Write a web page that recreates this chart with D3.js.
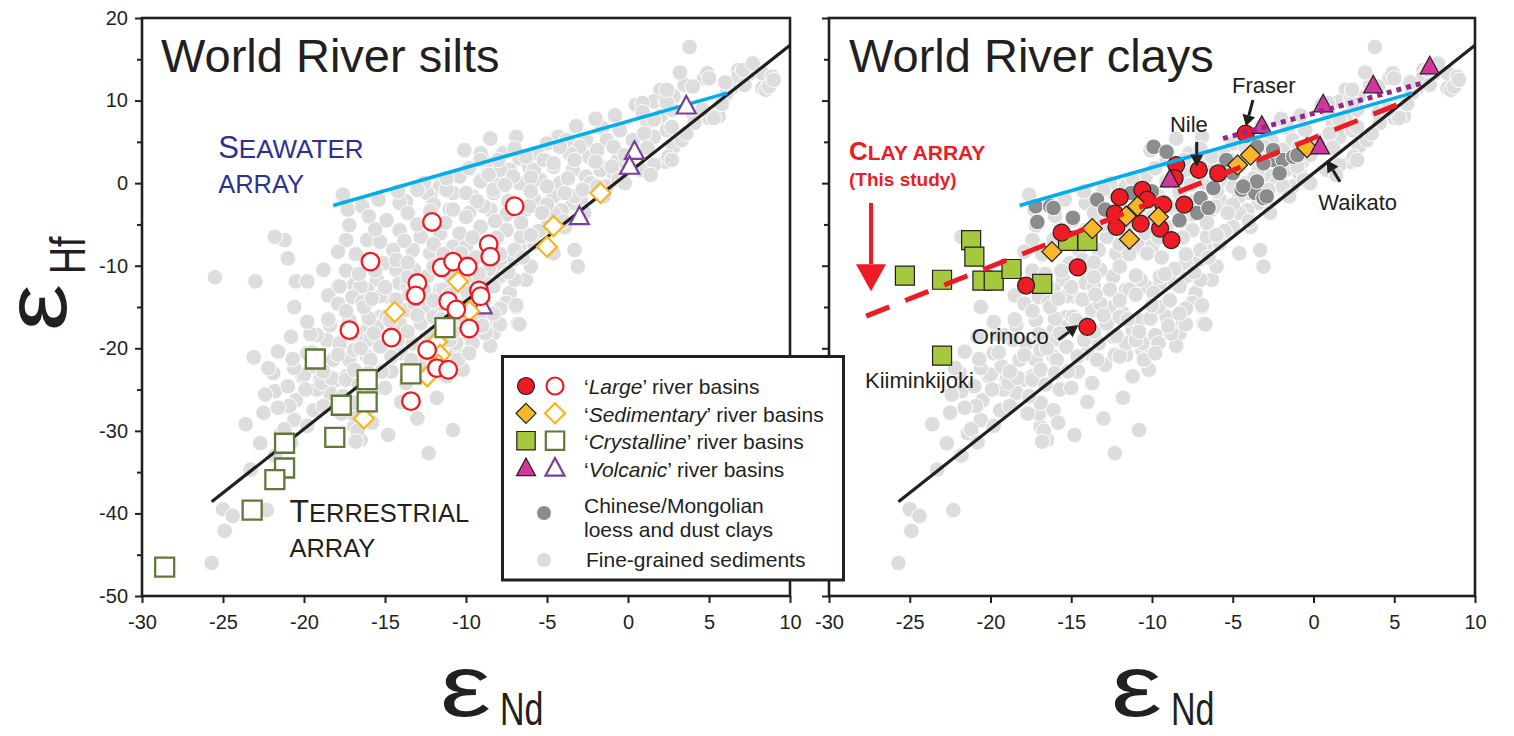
<!DOCTYPE html>
<html>
<head>
<meta charset="utf-8">
<script src="https://cdn.jsdelivr.net/npm/d3@7"></script>
<style>
body { margin: 0; background: #fff; }
text { font-family: "Liberation Sans", Arial, Helvetica, sans-serif; fill: #231f20; }
</style>
</head>
<body>
<svg id="chart" width="1514" height="736"></svg>
<script>
// ---- data (eNd, eHf) ----
var xTicks = [-30, -25, -20, -15, -10, -5, 0, 5, 10];
var yTicks = [20, 10, 0, -10, -20, -30, -40, -50];
var yMinorTicks = [15, 5, -5, -15, -25, -35, -45];

// fine-grained sediments (same set in both panels)
var fineGrained = [
  [3.8,16.5],[6.8,13.7],[7.5,13.3],[8.6,12.5],[8.3,11.5],[6.4,11.5],[4.7,12.7],[3.5,11.9],[2.0,11.3],[0.5,9.5],
  [1.6,9.9],[2.8,10.5],[5.0,7.9],[2.0,8.1],[1.2,7.3],[-0.5,6.4],[-1.6,6.7],[-3.2,6.9],[-4.3,5.6],[-2.6,5.2],
  [-1.3,5.2],[0.3,5.2],[1.6,5.6],[2.4,6.4],[2.3,2.6],[1.6,2.2],[0.8,1.6],[-0.9,4.4],[-0.7,2.6],[-1.7,2.0],
  [-2.4,3.2],[-3.0,4.4],[-3.6,3.6],[-3.8,5.2],[-5.0,4.8],[-5.6,3.6],[-6.7,3.0],[-7.7,3.6],[-9.1,3.6],[-10.1,4.0],
  [-8.7,2.4],[-7.3,1.6],[-6.1,2.0],[-4.6,2.0],[-3.4,1.6],[-2.6,0.8],[-4.2,0.0],[-5.4,0.4],[-6.7,0.0],[-7.9,0.4],
  [-9.1,0.4],[-10.4,0.8],[-11.6,-0.4],[-12.2,-1.6],[-10.8,-1.2],[-9.6,-1.6],[-8.3,-1.2],[-5.8,-2.0],[-4.6,-1.6],[-3.4,-2.4],
  [-11.0,-3.2],[-9.8,-3.6],[-8.5,-3.2],[-6.3,-3.2],[-0.9,1.2],[1.4,1.0],[2.8,4.4],[4.0,8.5],[6.1,10.9],
  [-17.6,-1.4],[-17.3,-3.2],[-16.4,-2.8],[-17.2,-5.1],[-17.4,-6.9],[-21.2,-6.9],[-21.8,-6.5],[-21.0,-9.1],[-18.8,-10.5],[-20.5,-11.9],
  [-19.8,-11.9],[-17.9,-12.5],[-16.9,-12.3],[-16.1,-6.9],[-15.3,-7.1],[-14.9,-4.5],[-14.1,-5.7],[-13.7,-2.2],[-14.1,-2.4],[-12.4,-1.2],
  [-11.2,-0.8],[-10.8,-3.2],[-10.0,-1.2],[-9.1,0.2],[-8.3,-0.8],[-7.9,1.6],[-7.1,0.8],[-5.8,1.6],[-5.2,2.8],[-5.0,-0.4],
  [-6.1,-2.8],[-8.9,-2.8],[-10.0,-4.1],[-9.1,-5.3],[-10.4,-6.1],[-11.6,-6.1],[-12.8,-6.5],[-13.3,-8.1],[-14.5,-8.1],[-15.1,-9.7],
  [-14.3,-10.5],[-15.5,-11.7],[-16.1,-12.9],[-14.9,-13.7],[-14.1,-12.1],[-12.4,-11.3],[-12.2,-8.5],[-10.8,-7.7],[-10.0,-7.7],[-7.5,-5.7],
  [-6.7,-7.7],[-7.1,-9.3],[-7.9,-11.3],[-8.7,-12.1],[-7.3,-13.3],[-7.5,-14.5],[-6.9,-15.0],[-6.8,-17.0],[-8.1,-17.0],[-9.1,-16.2],
  [-8.3,-18.2],[-11.2,-17.8],[-12.8,-17.0],[-13.7,-15.4],[-12.4,-15.0],[-10.4,-12.5],[-11.6,-12.9],[-15.3,-16.2],[-16.1,-17.8],[-6.3,-11.7],
  [-6.3,3.2],[-4.6,2.4],[-9.1,2.8],
  [-25.5,-11.4],[-23.0,-11.9],[-23.1,-21.1],[-20.1,-23.4],[-20.5,-26.3],[-19.4,-27.5],[-20.6,-28.7],[-23.6,-29.2],[-21.4,-30.3],[-23.3,-34.7],
  [-25.0,-39.5],[-24.4,-40.3],[-22.3,-39.6],[-24.9,-42.1],[-25.7,-46.0],[-18.6,-19.0],[-17.8,-19.4],[-17.2,-21.4],[-18.2,-21.4],[-19.0,-23.8],
  [-18.0,-23.8],[-18.4,-25.4],[-19.2,-25.0],[-17.4,-23.4],[-16.1,-21.0],[-16.1,-19.0],[-15.3,-19.8],[-15.5,-17.4],[-14.9,-16.2],[-14.1,-17.0],
  [-13.3,-19.4],[-14.3,-14.1],[-15.3,-13.7],[-16.5,-12.5],[-17.8,-12.5],[-16.5,-31.1],[-16.9,-29.5],[-10.8,-29.9],[-12.3,-32.7],[-17.0,-27.9],
  [-9.8,-18.4],[-10.6,-20.2],[-10.2,-22.6],[-9.5,-12.1],
  [-21.2,-29.8],[-20.0,-23.2],[-19.3,-22.2],[-17.7,-27.9],[-16.9,-26.6],[-16.1,-27.5],[-16.7,-30.0],[-16.8,-31.3],[-13.7,-24.2],[-12.9,-22.0],
  [-11.6,-20.8],[-10.5,-21.4],[-9.6,-19.4],[-8.5,-19.7],[-8.8,-18.2],[-7.9,-17.1],[-6.7,-17.1],[-6.9,-14.8],[-7.9,-15.2],[-9.6,-15.0],
  [-10.6,-19.4],[-11.6,-19.4],[-12.3,-20.8],[-15.7,-25.0],[-18.9,-24.2],[-18.3,-23.6],[-17.4,-23.8],[-16.9,-22.6],[-15.9,-21.4],[-14.7,-16.6],
  [-15.7,-18.2],
  [-13.2,-10.5],[-12.0,-10.1],[-10.3,-8.5],[-10.7,-11.7],[-9.5,-11.3],[-7.9,-9.7],[-7.0,-8.1],[-6.6,-6.5],[-5.8,-7.3],[-5.0,-5.3],
  [-4.1,-3.3],[-2.9,-2.0],[-2.3,0.0],[-1.7,1.6],[-1.3,-0.4],[-3.3,-8.1],[-4.6,-8.5],[-6.0,-10.1],[-7.0,-11.7],[-8.3,-12.5],
  [-9.9,-13.3],[-11.4,-12.9],[-12.6,-12.9],[-14.3,-9.3],[-13.6,-12.5],[-3.1,-10.1],
  [4.9,13.3],[6.8,12.9],[8.3,13.3],[8.9,12.9],[8.5,11.3],[5.6,8.1],[2.3,10.1],[2.7,8.9],[1.6,7.7],[1.0,6.0],
  [2.5,3.2],[3.3,5.2],[4.1,7.3],[-1.0,2.0],[-0.6,0.4],[-1.9,-0.4],[-3.3,-1.6],[-4.6,-3.6],[-1.5,-1.6],[-2.7,-3.6],
  [-3.9,-5.3],[7.1,13.7],[7.7,14.5],[8.7,11.7],[9.0,12.5],[5.0,12.7],[4.0,11.7],[5.3,7.9],[2.4,9.7],[0.9,9.7],
  [2.4,11.3],[2.7,6.8],[2.7,2.8],
  // denser core of the cloud
  [-8.5,5.4],[-6.9,5.6],[-2.0,7.8],[-0.8,8.2],[0.9,8.6],[-7.0,4.2],[-4.2,4.4],[-1.9,4.0],[1.2,4.3],[3.6,6.0],
  [4.6,8.9],[5.8,9.6],[7.2,11.9],[6.0,12.2],[3.2,13.4],[-9.8,1.8],[-8.0,2.8],[-3.3,2.8],[-2.0,2.6],[-0.2,3.4],
  [-12.6,0.0],[-11.2,0.6],[-8.6,1.0],[-6.0,0.7],[-3.7,0.6],[-0.2,0.0],[-14.2,-1.0],[-13.0,-0.8],[-7.6,-0.2],[-6.0,-1.0],
  [-2.8,-0.8],[-15.4,-2.0],[-12.0,-2.6],[-9.3,-2.2],[-7.4,-2.2],[-5.0,-2.6],[-3.9,-1.2],[-16.0,-4.0],[-13.6,-3.6],[-12.2,-3.4],
  [-7.5,-3.8],[-5.3,-3.6],[-4.0,-4.6],[-15.6,-5.6],[-13.0,-5.0],[-11.3,-4.8],[-8.2,-4.6],[-6.6,-4.8],[-5.5,-5.8],[-16.8,-8.6],
  [-13.8,-7.0],[-12.0,-7.4],[-9.6,-6.6],[-8.1,-6.6],[-6.0,-6.3],[-17.9,-8.3],[-13.6,-9.6],[-11.4,-8.6],[-9.4,-9.0],[-7.9,-8.6],
  [-6.5,-9.0],[-17.4,-10.6],[-16.6,-11.0],[-11.0,-11.2],[-8.6,-10.4],[-7.4,-10.8],[-18.5,-13.6],[-17.0,-13.8],[-15.0,-12.6],[-9.2,-11.0],
  [-17.9,-14.6],[-16.4,-14.4],[-13.2,-14.6],[-11.8,-15.8],[-18.4,-17.2],[-17.2,-16.6],[-16.0,-16.4],[-12.0,-16.2],[-10.8,-16.6],[-19.2,-18.4],
  [-16.8,-18.6],[-12.4,-18.6],[-11.0,-19.0],[-9.8,-20.6],[-19.8,-20.6],[-16.9,-20.2],[-14.0,-20.6],[-12.0,-21.0],[-20.6,-22.4],[-16.6,-24.4],
  [-14.6,-22.8],[-13.4,-21.4],[-11.2,-23.4],[-19.5,-20.5],[-18.8,-22.8],[-17.9,-20.8],[-17.0,-18.3],[-16.5,-20.0],[-16.0,-23.0],[-15.2,-22.8],
  [-14.6,-21.0],[-14.2,-19.0],[-13.6,-18.0],[-13.0,-16.0],[-12.2,-18.5],[-11.5,-16.5],[-10.8,-18.0],[-10.1,-16.4],[-15.0,-24.8],[-14.0,-26.5],
  [-15.8,-29.0],[-17.6,-25.8],[-18.8,-27.0],[-19.9,-25.0],[-20.9,-27.0],[-21.8,-25.2],[-22.5,-27.8],[-21.9,-23.0],[-20.7,-21.3],[-19.6,-18.3],
  [-18.5,-16.5],[-17.4,-15.5],[-16.3,-15.0],[-15.8,-14.0],[-13.5,-13.5],[-12.0,-14.2],[-11.0,-13.5],[-10.0,-14.8],[-8.9,-14.2],[-8.3,-15.8],
  [-9.0,-17.3],[-11.8,-26.0],[-13.0,-28.5],[-14.8,-30.5],[-22.7,-31.5],[-21.8,-33.0],[-20.6,-15.0],[-19.8,-16.8],[-20.8,-18.6],[-21.6,-20.4],
  [-22.2,-22.4],[-21.0,-24.6],[-22.4,-25.6],[-21.6,-27.2],[-19.8,-29.4],[-20.8,-31.4],[-15.6,-10.6],[-13.6,-11.4]
];

// Chinese/Mongolian loess and dust clays (right panel)
var loess = [
  [-17.2,-2.8],[-16.3,-2.8],[-17.1,-4.7],[-16.1,-3.0],[-14.9,-4.2],[-13.4,-2.0],[-12.9,-3.2],[-9.9,4.4],[-9.1,3.8],[-8.3,-4.5],
  [-7.2,-3.6],[-7.0,-1.8],[-6.2,-0.6],[-5.4,2.8],[-5.0,1.2],[-4.45,-0.8],[-3.6,-1.2],[-3.5,0.2],[-3.1,-1.8],[-2.5,2.8],
  [-1.9,2.8],[-1.25,3.2],[-3.5,4.4],[-2.5,4.0],[-1.0,3.4],[-3.1,2.4],[-4.35,-0.4],[-2.9,-1.6],[-2.1,1.2],[-10.0,-1.0],
  [-6.5,-3.0],[-11.3,-1.2]
];

// World River silts (open symbols)
var siltsLarge = [
  [-12.1,-4.7],[-7.0,-2.8],[-15.9,-9.5],[-8.6,-7.4],[-8.5,-8.9],[-11.5,-10.2],[-10.8,-9.5],[-9.9,-10.1],[-13.0,-12.1],[-13.1,-13.6],
  [-11.1,-14.3],[-10.6,-15.3],[-9.2,-13.0],[-9.1,-13.7],[-9.8,-17.6],[-17.2,-17.8],[-14.6,-18.7],[-12.4,-20.2],[-11.8,-22.4],[-11.1,-22.6],
  [-13.4,-26.4]
];
var siltsSedimentary = [
  [-1.7,-1.2],[-4.6,-5.2],[-5.0,-7.7],[-10.5,-11.9],[-14.4,-15.6],[-11.8,-19.2],[-11.6,-20.8],[-11.7,-22.0],[-12.4,-23.4],[-16.3,-28.5],
  [-9.8,-15.5]
];
var siltsCrystalline = [
  [-11.3,-17.5],[-19.3,-21.3],[-16.1,-23.8],[-13.4,-23.1],[-17.7,-26.9],[-16.1,-26.5],[-18.1,-30.8],[-21.2,-31.5],[-21.2,-34.5],[-21.8,-35.9],
  [-23.2,-39.6],[-28.6,-46.5]
];
var siltsVolcanic = [[3.6,9.3],[0.4,3.8],[0.1,2.0],[-3.0,-4.1],[-9.0,-14.9]];

// World River clays (filled symbols)
var claysLarge = [
  [-17.8,-12.4],[-14.6,-10.2],[-15.6,-6.0],[-14.0,-17.4],[-12.0,-1.7],[-10.6,-0.8],[-12.3,-3.7],[-12.2,-5.3],[-10.7,-4.9],[-9.5,-5.5],
  [-9.3,-2.6],[-8.0,-2.6],[-8.8,-6.9],[-10.3,-2.0],[-8.5,2.2],[-8.6,0.6],[-7.1,1.6],[-5.9,1.2],[-4.2,6.0]
];
var claysSedimentary = [[-16.2,-8.3],[-13.7,-5.5],[-11.4,-6.8],[-11.6,-4.0],[-10.9,-2.8],[-9.6,-4.1],[-4.7,2.2],[-3.9,3.4],[-0.4,4.3]];
var claysCrystalline = [
  [-21.2,-6.9],[-21.0,-8.9],[-25.3,-11.2],[-23.0,-11.7],[-20.5,-11.8],[-19.8,-11.8],[-18.7,-10.4],[-16.8,-12.2],[-15.2,-7.0],[-14.0,-7.0],
  [-23.0,-20.9]
];
var claysVolcanic = [[-8.9,0.4],[-3.2,6.9],[0.6,9.5],[3.7,11.8],[7.2,14.1],[0.4,4.4]];

// arrays (line end points)
var terrestrialArray = [[-25.7,-38.6],[10,16.7]];
var seawaterArray = [[-18.2,-2.7],[6.1,10.9]];
var clayArray = [[-27.7,-16.1],[5.7,9.9]];
var volcanicArray = [[-5.6,5.4],[6.7,12.1]];

// ---- setup ----
var ink = "#231f20";
var col = {
  red: "#ed1c24", sedFill: "#f8b629", sedLine: "#f9b31c", crysFill: "#a6c83c", crysLine: "#5f7a36",
  volcFill: "#d2389b", volcLine: "#7a3f98", blue: "#00aeef", purple: "#92278f",
  light: "#dddddd", dark: "#8b8c8e", navy: "#2e3192"
};

var svg = d3.select("#chart");
var y = d3.scaleLinear().domain([-50, 20]).range([596, 18]);
var xL = d3.scaleLinear().domain([-30, 10]).range([142, 790]);
var xR = d3.scaleLinear().domain([-30, 10]).range([829, 1475]);

// marker shapes centred on 0,0
var shapes = {
  circle: function(r){ return "M"+r+",0A"+r+","+r+" 0 1,1 "+(-r)+",0A"+r+","+r+" 0 1,1 "+r+",0Z"; },
  square: function(s){ return "M"+(-s)+","+(-s)+"h"+(2*s)+"v"+(2*s)+"h"+(-2*s)+"Z"; },
  diamond: function(d){ return "M0,"+(-d)+"L"+d+",0L0,"+d+"L"+(-d)+",0Z"; },
  triangle: function(w){ return "M0,"+(-w*1.1)+"L"+w+","+(w*0.75)+"L"+(-w)+","+(w*0.75)+"Z"; }
};

function drawMarks(g, data, x, shape, size, fill, stroke, sw) {
  g.append("g").selectAll("path").data(data).join("path")
    .attr("transform", function(d){ return "translate(" + x(d[0]) + "," + y(d[1]) + ")"; })
    .attr("d", shapes[shape](size))
    .attr("fill", fill).attr("stroke", stroke).attr("stroke-width", sw)
    .attr("stroke-linejoin", "miter");
}

function drawDots(g, data, x, fill) {
  g.append("g").selectAll("circle").data(data).join("circle")
    .attr("cx", function(d){ return x(d[0]); })
    .attr("cy", function(d){ return y(d[1]); })
    .attr("r", 7.8)
    .attr("fill", fill).attr("stroke", "#fff").attr("stroke-width", 1);
}

function drawLine(g, pts, x, color, width, dash) {
  var line = d3.line().x(function(d){ return x(d[0]); }).y(function(d){ return y(d[1]); });
  var p = g.append("path").datum(pts).attr("d", line)
    .attr("fill", "none").attr("stroke", color).attr("stroke-width", width);
  if (dash) p.attr("stroke-dasharray", dash);
  return p;
}

function drawArrow(g, from, to, x, color, headLen, headW, width) {
  var x1 = x(from[0]), y1 = y(from[1]), x2 = x(to[0]), y2 = y(to[1]);
  var a = Math.atan2(y2 - y1, x2 - x1);
  var bx = x2 - headLen * Math.cos(a), by = y2 - headLen * Math.sin(a);
  g.append("line").attr("x1", x1).attr("y1", y1).attr("x2", bx).attr("y2", by)
    .attr("stroke", color).attr("stroke-width", width);
  var px = -Math.sin(a) * headW / 2, py = Math.cos(a) * headW / 2;
  g.append("path")
    .attr("d", "M" + x2 + "," + y2 + "L" + (bx + px) + "," + (by + py) + "L" + (bx - px) + "," + (by - py) + "Z")
    .attr("fill", color);
}

function drawAxes(g, x, withLabels) {
  var fmt = function(d){ return withLabels ? String(d) : ""; };
  g.append("g").attr("transform", "translate(" + x.range()[0] + ",0)")
    .call(d3.axisLeft(y).tickValues(yTicks).tickSize(7).tickPadding(7).tickFormat(fmt));
  g.append("g").attr("transform", "translate(" + x.range()[0] + ",0)")
    .call(d3.axisLeft(y).tickValues(yMinorTicks).tickSize(5).tickFormat(""));
  g.append("g").attr("transform", "translate(0,596)")
    .call(d3.axisBottom(x).tickValues(xTicks).tickSize(7).tickPadding(12).tickFormat(function(d){ return String(d); }));
  g.selectAll(".domain").remove();
  g.selectAll(".tick line").attr("stroke", ink).attr("stroke-width", 2);
  g.selectAll(".tick text").attr("font-size", 20).attr("font-family", null).attr("fill", ink);
  g.append("rect").attr("x", x.range()[0]).attr("y", 18)
    .attr("width", x.range()[1] - x.range()[0]).attr("height", 578)
    .attr("fill", "none").attr("stroke", ink).attr("stroke-width", 2.6);
}

function addText(g, px, py, size, parts, color, weight) {
  var t = g.append("text").attr("x", px).attr("y", py).attr("font-size", size);
  if (color) t.style("fill", color);
  if (weight) t.attr("font-weight", weight);
  parts.forEach(function(p){
    var s = t.append("tspan").text(p[0]);
    if (p[1]) s.attr("font-size", p[1]);
    if (p[2]) s.attr("font-style", p[2]);
  });
  return t;
}

// ---- left panel: World River silts ----
var left = svg.append("g");
drawDots(left, fineGrained, xL, col.light);
drawLine(left, terrestrialArray, xL, ink, 3.2);
drawLine(left, seawaterArray, xL, col.blue, 3.6);
drawMarks(left, siltsVolcanic, xL, "triangle", 9.5, "#fff", col.volcLine, 2.2);
drawMarks(left, siltsSedimentary, xL, "diamond", 10, "#fff", col.sedLine, 2.2);
drawMarks(left, siltsLarge, xL, "circle", 8.8, "#fff", col.red, 2.3);
drawMarks(left, siltsCrystalline, xL, "square", 9.5, "#fff", col.crysLine, 2.3);
drawAxes(left, xL, true);

addText(left, 161, 72, 47, [["World River silts"]]);
addText(left, xL(-25.3), y(3.0), 26, [["S", 31], ["EAWATER"]], col.navy);
addText(left, xL(-25.3), y(-1.2), 25.5, [["ARRAY"]], col.navy);
addText(left, xL(-20.9), y(-41.0), 25.5, [["T", 32], ["ERRESTRIAL"]]);
addText(left, xL(-20.9), y(-45.3), 25.5, [["ARRAY"]]);

// ---- right panel: World River clays ----
var right = svg.append("g");
drawDots(right, fineGrained, xR, col.light);
drawDots(right, loess, xR, col.dark);
drawLine(right, terrestrialArray, xR, ink, 3.2);
drawMarks(right, claysCrystalline, xR, "square", 9.5, col.crysFill, ink, 1.2);
drawMarks(right, claysLarge, xR, "circle", 8.5, col.red, ink, 1.2);
drawMarks(right, claysSedimentary, xR, "diamond", 10, col.sedFill, ink, 1.2);
drawMarks(right, claysVolcanic, xR, "triangle", 9.5, col.volcFill, ink, 1.2);
drawLine(right, seawaterArray, xR, col.blue, 3.6);
drawLine(right, clayArray, xR, col.red, 5, "25,17");
drawLine(right, volcanicArray, xR, col.purple, 5, "5,5");
drawAxes(right, xR, false);

addText(right, 849, 72, 47, [["World River clays"]]);
addText(right, xR(-28.76), y(2.8), 21, [["C", 26], ["LAY ARRAY"]], col.red, "bold");
addText(right, xR(-28.76), y(-0.35), 19, [["(This study)"]], col.red, "bold");
drawArrow(right, [-27.4, -2.4], [-27.4, -13.1], xR, col.red, 27, 30, 4);

addText(right, xR(-5.05), y(10.9), 22, [["Fraser"]]);
drawArrow(right, [-3.75, 10.07], [-4.18, 6.9], xR, ink, 11, 13, 3);
addText(right, xR(-8.89), y(6.24), 22, [["Nile"]]);
drawArrow(right, [-7.23, 5.0], [-7.23, 2.0], xR, ink, 12, 13, 3);
addText(right, xR(0.3), y(-3.24), 22, [["Waikato"]]);
drawArrow(right, [1.64, 0.18], [0.82, 2.81], xR, ink, 12, 13, 3);
addText(right, xR(-21.16), y(-19.47), 22, [["Orinoco"]]);
drawArrow(right, [-15.8, -18.98], [-14.56, -17.17], xR, ink, 12, 13, 3);
addText(right, xR(-27.77), y(-24.85), 22, [["Kiiminkijoki"]]);

// ---- legend ----
var lg = svg.append("g");
lg.append("rect").attr("x", 502.5).attr("y", 356.5).attr("width", 341).attr("height", 223.5)
  .attr("fill", "#fff").attr("stroke", ink).attr("stroke-width", 3);
var legendRows = [
  { shape: "circle", size: 8.5, fill: col.red, line: col.red, yc: 386, base: 394.3, label: ["Large", "’ river basins"] },
  { shape: "diamond", size: 10, fill: col.sedFill, line: col.sedLine, yc: 413.3, base: 421.7, label: ["Sedimentary", "’ river basins"] },
  { shape: "square", size: 9.2, fill: col.crysFill, line: col.crysLine, yc: 440.7, base: 449.3, label: ["Crystalline", "’ river basins"] },
  { shape: "triangle", size: 9.5, fill: col.volcFill, line: col.volcLine, yc: 468.5, base: 476.7, label: ["Volcanic", "’ river basins"] }
];
legendRows.forEach(function(r){
  lg.append("path").attr("transform", "translate(526," + r.yc + ")").attr("d", shapes[r.shape](r.size))
    .attr("fill", r.fill).attr("stroke", ink).attr("stroke-width", 1.2);
  lg.append("path").attr("transform", "translate(555," + r.yc + ")").attr("d", shapes[r.shape](r.size))
    .attr("fill", "#fff").attr("stroke", r.line).attr("stroke-width", 2.2);
  addText(lg, 584, r.base, 21, [["‘"], [r.label[0], null, "italic"], [r.label[1]]]);
});
lg.append("circle").attr("cx", 544).attr("cy", 513).attr("r", 7).attr("fill", col.dark);
addText(lg, 584, 512.7, 21, [["Chinese/Mongolian"]]);
addText(lg, 584, 536.7, 21, [["loess and dust clays"]]);
lg.append("circle").attr("cx", 544).attr("cy", 560).attr("r", 7).attr("fill", col.light);
addText(lg, 586, 566.7, 21, [["Fine-grained sediments"]]);

// ---- axis titles (epsilon widened, subscripts condensed as in the figure) ----
svg.append("text").attr("transform", "translate(66,331) rotate(-90) scale(1.2,1)")
  .attr("font-size", 88).text("ε");
svg.append("text").attr("transform", "translate(85,274) rotate(-90) scale(0.75,1)")
  .attr("font-size", 50).text("Hf");

[[440, 500], [1111, 1171]].forEach(function(p){
  svg.append("text").attr("transform", "translate(" + p[0] + ",716) scale(1.3,1)")
    .attr("font-size", 88).text("ε");
  svg.append("text").attr("transform", "translate(" + p[1] + ",725) scale(0.74,1)")
    .attr("font-size", 46).text("Nd");
});
</script>
</body>
</html>
